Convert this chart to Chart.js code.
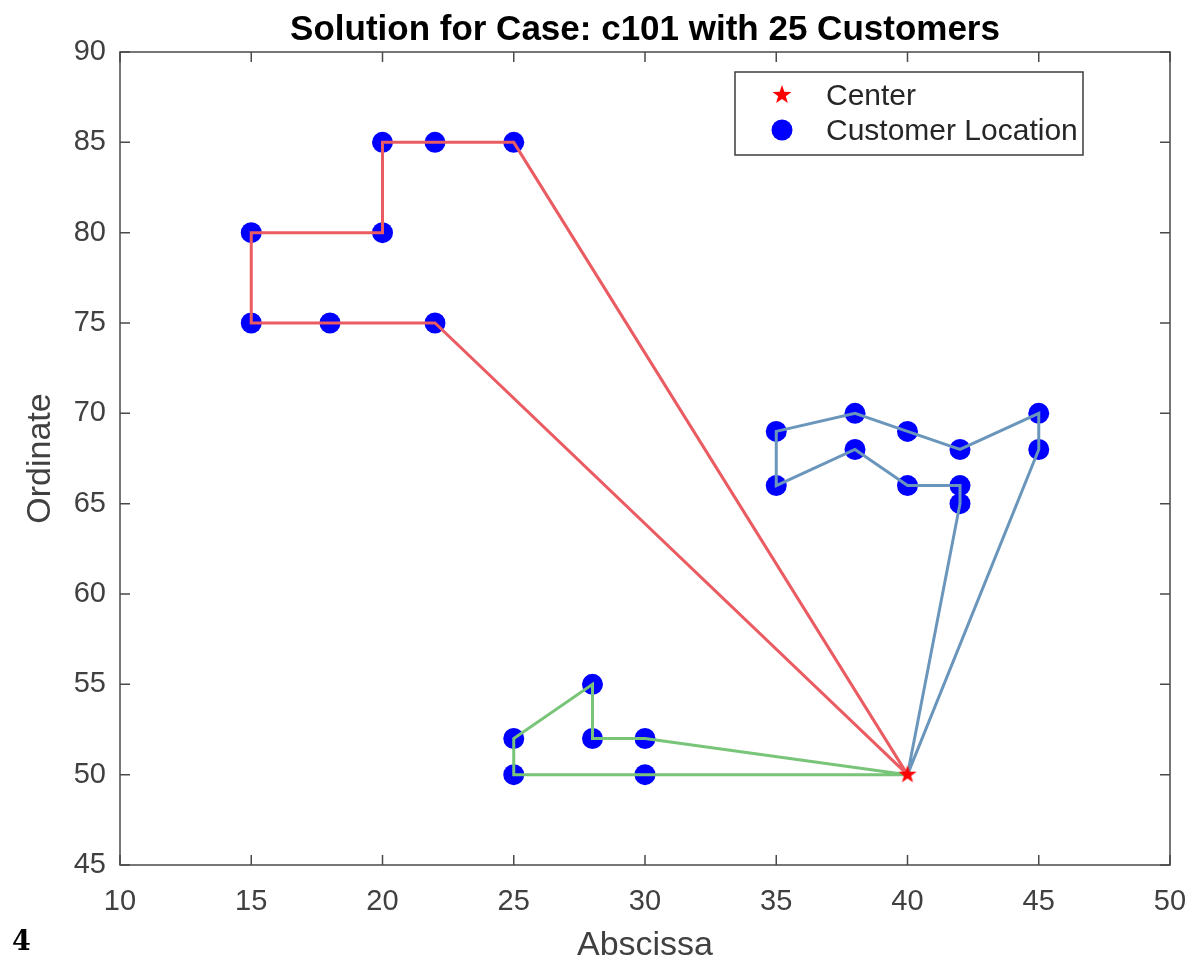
<!DOCTYPE html>
<html>
<head>
<meta charset="utf-8">
<title>Solution for Case: c101 with 25 Customers</title>
<script src="https://cdn.jsdelivr.net/npm/chart.js@4/dist/chart.umd.min.js"></script>
<style>
  html, body { margin: 0; padding: 0; background: #ffffff; }
  #wrap { width: 1192px; height: 963px; position: relative; }
</style>
</head>
<body>
<div id="wrap"><canvas id="routeChart" width="1192" height="963"></canvas></div>
<script>
// depot
const centerX = [40];
const centerY = [50];

// routes, each starts and ends at the depot
const redX = [40, 25, 22, 20, 20, 15, 15, 18, 22, 40];
const redY = [50, 85, 85, 85, 80, 80, 75, 75, 75, 50];

const blueX = [40, 45, 45, 42, 40, 38, 35, 35, 38, 40, 42, 42, 40];
const blueY = [50, 68, 70, 68, 69, 70, 69, 66, 68, 66, 66, 65, 50];

const greenX = [40, 30, 28, 28, 25, 25, 30, 40];
const greenY = [50, 52, 52, 55, 52, 50, 50, 50];

const xTicks = [10, 15, 20, 25, 30, 35, 40, 45, 50];
const yTicks = [45, 50, 55, 60, 65, 70, 75, 80, 85, 90];

const legendLabels = ['Center', 'Customer Location'];
const chartTitle = 'Solution for Case: c101 with 25 Customers';

function toPoints(xs, ys) {
  return xs.map(function (x, i) { return { x: x, y: ys[i] }; });
}

// customers = every route stop except the depot at both ends
const customers = []
  .concat(toPoints(redX, redY).slice(1, -1))
  .concat(toPoints(blueX, blueY).slice(1, -1))
  .concat(toPoints(greenX, greenY).slice(1, -1));

function drawStar(ctx, cx, cy, r) {
  ctx.beginPath();
  for (let i = 0; i < 10; i++) {
    const rad = i % 2 === 0 ? r : r * 0.4;
    const a = -Math.PI / 2 + i * Math.PI / 5;
    const px = cx + rad * Math.cos(a);
    const py = cy + rad * Math.sin(a);
    if (i === 0) ctx.moveTo(px, py); else ctx.lineTo(px, py);
  }
  ctx.closePath();
  ctx.fillStyle = '#ff0000';
  ctx.fill();
}

const starImg = document.createElement('canvas');
starImg.width = 22;
starImg.height = 22;
drawStar(starImg.getContext('2d'), 11, 11, 9.5);

const tickFont = { family: 'Liberation Sans, Arial, sans-serif', size: 29 };
const axisColor = '#4a4a4a';

// MATLAB style box with inward ticks, title and legend
const boxPlugin = {
  id: 'boxPlugin',
  afterDraw: function (chart) {
    const ctx = chart.ctx;
    const a = chart.chartArea;
    const xs = chart.scales.x;
    const ys = chart.scales.y;
    const tl = 10;
    ctx.save();
    ctx.strokeStyle = axisColor;
    ctx.lineWidth = 1.5;
    ctx.strokeRect(a.left, a.top, a.right - a.left, a.bottom - a.top);
    ctx.beginPath();
    xTicks.forEach(function (v) {
      const px = xs.getPixelForValue(v);
      ctx.moveTo(px, a.bottom); ctx.lineTo(px, a.bottom - tl);
      ctx.moveTo(px, a.top); ctx.lineTo(px, a.top + tl);
    });
    yTicks.forEach(function (v) {
      const py = ys.getPixelForValue(v);
      ctx.moveTo(a.left, py); ctx.lineTo(a.left + tl, py);
      ctx.moveTo(a.right, py); ctx.lineTo(a.right - tl, py);
    });
    ctx.stroke();

    // title, centred over the plot box
    ctx.fillStyle = '#000000';
    ctx.font = 'bold 35px "Liberation Sans", Arial, sans-serif';
    ctx.textAlign = 'center';
    ctx.textBaseline = 'middle';
    ctx.fillText(chartTitle, (a.left + a.right) / 2, 30);

    // legend
    const lx = a.right - 435, ly = a.top + 20, lw = 348, lh = 83;
    ctx.fillStyle = '#ffffff';
    ctx.fillRect(lx, ly, lw, lh);
    ctx.strokeStyle = '#3c3c3c';
    ctx.lineWidth = 1.5;
    ctx.strokeRect(lx, ly, lw, lh);
    drawStar(ctx, lx + 47, ly + 23, 10);
    ctx.beginPath();
    ctx.arc(lx + 47, ly + 58, 10.5, 0, Math.PI * 2);
    ctx.fillStyle = '#0000ff';
    ctx.fill();
    ctx.fillStyle = '#262626';
    ctx.font = '30px "Liberation Sans", Arial, sans-serif';
    ctx.textAlign = 'left';
    ctx.fillText(legendLabels[0], lx + 91, ly + 25);
    ctx.fillText(legendLabels[1], lx + 91, ly + 60);

    // figure number below the plot
    ctx.fillStyle = '#000000';
    ctx.font = 'bold 27px "DejaVu Serif", "Liberation Serif", serif';
    ctx.textBaseline = 'alphabetic';
    ctx.fillText('4', 12, 950);
    ctx.restore();
  }
};

function noPad(scale) {
  scale.paddingLeft = 0;
  scale.paddingRight = 0;
  scale.paddingTop = 0;
  scale.paddingBottom = 0;
}

new Chart(document.getElementById('routeChart'), {
  type: 'scatter',
  data: {
    datasets: [
      {
        label: 'Center',
        data: toPoints(centerX, centerY),
        pointStyle: starImg,
        pointRadius: 10,
        order: 0,
      },
      {
        label: 'Route 1',
        data: toPoints(redX, redY),
        showLine: true,
        borderColor: '#ea5b62',
        borderWidth: 3,
        pointRadius: 0,
        order: 1,
      },
      {
        label: 'Route 2',
        data: toPoints(blueX, blueY),
        showLine: true,
        borderColor: '#6a96bc',
        borderWidth: 3,
        pointRadius: 0,
        order: 1,
      },
      {
        label: 'Route 3',
        data: toPoints(greenX, greenY),
        showLine: true,
        borderColor: '#78c478',
        borderWidth: 3,
        pointRadius: 0,
        order: 1,
      },
      {
        label: 'Customer Location',
        data: customers,
        backgroundColor: '#0000ff',
        borderColor: '#0000ff',
        borderWidth: 0,
        pointRadius: 10.5,
        order: 2,
      },
    ],
  },
  options: {
    responsive: false,
    animation: false,
    layout: { padding: { left: 0, right: 22, top: 52, bottom: 0 } },
    plugins: {
      legend: { display: false },
      tooltip: { enabled: false },
      title: { display: false },
    },
    scales: {
      x: {
        type: 'linear',
        min: 10,
        max: 50,
        grid: { display: false, drawTicks: false },
        border: { display: false },
        ticks: { stepSize: 5, color: '#404040', font: tickFont, padding: 20, maxRotation: 0 },
        title: { display: true, text: 'Abscissa', color: '#404040', font: { family: 'Liberation Sans, Arial, sans-serif', size: 34 }, padding: { top: 0, bottom: -3 } },
        afterFit: function (scale) { scale.height = 98; noPad(scale); },
      },
      y: {
        type: 'linear',
        min: 45,
        max: 90,
        grid: { display: false, drawTicks: false },
        border: { display: false },
        ticks: { stepSize: 5, color: '#404040', font: tickFont, padding: 14 },
        title: { display: true, text: 'Ordinate', color: '#404040', font: { family: 'Liberation Sans, Arial, sans-serif', size: 34 }, padding: { top: 20, bottom: 0 } },
        afterFit: function (scale) { scale.width = 120; noPad(scale); },
      },
    },
  },
  plugins: [boxPlugin],
});
</script>
</body>
</html>
